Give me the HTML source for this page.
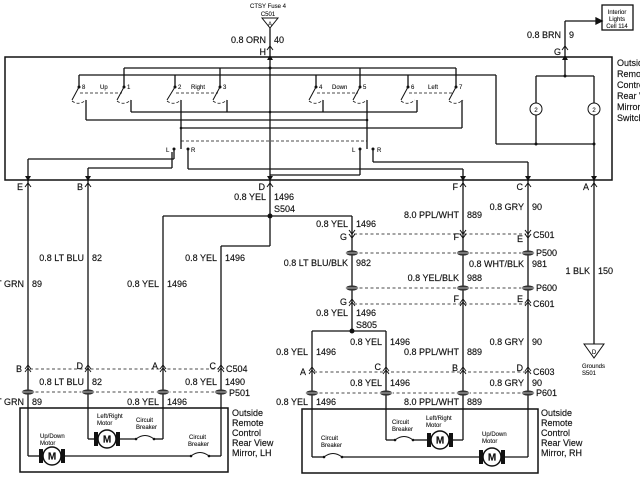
<!DOCTYPE html>
<html><head><meta charset="utf-8"><style>
html,body{margin:0;padding:0;background:#fff}
svg{display:block}
text{font-family:"Liberation Sans",Arial,sans-serif;font-size:9px;fill:#111;stroke:#111;stroke-width:0.15}
.s{font-size:6px;stroke-width:0.1}
</style></head><body>
<svg width="640" height="480" viewBox="0 0 640 480" xmlns="http://www.w3.org/2000/svg">
<defs>
<g id="cu"><path d="M-3,3 L0,-1 L3,3 M-3,6 L0,2 L3,6" fill="none" stroke="#111" stroke-width="0.9"/></g>
<g id="cd"><path d="M-3,-3 L0,1 L3,-3" fill="none" stroke="#111" stroke-width="1"/></g>
<g id="pp"><ellipse cx="0" cy="0" rx="6" ry="2.6" fill="#333"/><line x1="-7" y1="0" x2="7" y2="0" stroke="#ddd" stroke-width="0.8"/></g>
<g id="mot"><rect x="-13" y="-7" width="4" height="14" fill="#111"/><rect x="9" y="-7" width="4" height="14" fill="#111"/><circle cx="0" cy="0" r="9" fill="#fff" stroke="#111" stroke-width="1.5"/><text x="0" y="3.5" text-anchor="middle" style="font-size:10px;font-weight:bold">M</text></g>
<g id="cb"><path d="M-9,0 Q0,-7 9,0" fill="none" stroke="#111" stroke-width="1"/><circle cx="-9" cy="0" r="1.3" fill="#111"/><circle cx="9" cy="0" r="1.3" fill="#111"/></g>
</defs>
<g stroke="#111" stroke-width="1.3" fill="none">
<path d="M262,18 L278,18 L270,28 Z" stroke-width="1"/>
<line x1="270" y1="28" x2="270" y2="57"/>
<rect x="602" y="5" width="31" height="25"/>
<line x1="602" y1="21" x2="565" y2="21"/><line x1="565" y1="21" x2="565" y2="57"/>
<path d="M596,18 L602,21 L596,24Z" fill="#111"/>
<rect x="5" y="57" width="607" height="123" stroke-width="1.5"/>
<line x1="270" y1="57" x2="270" y2="180"/>
<line x1="124" y1="68" x2="456" y2="68"/>
<line x1="124" y1="68" x2="124" y2="87"/>
<line x1="220" y1="68" x2="220" y2="87"/>
<line x1="360" y1="68" x2="360" y2="87"/>
<line x1="456" y1="68" x2="456" y2="87"/>
<line x1="79" y1="75" x2="496" y2="75"/>
<line x1="79" y1="75" x2="79" y2="87"/>
<line x1="175" y1="75" x2="175" y2="87"/>
<line x1="316" y1="75" x2="316" y2="87"/>
<line x1="408" y1="75" x2="408" y2="87"/>
<line x1="496" y1="75" x2="496" y2="144"/>
<line x1="496" y1="144" x2="594" y2="144"/>
<line x1="565" y1="57" x2="565" y2="76"/>
<line x1="536" y1="76" x2="594" y2="76"/>
<line x1="536" y1="76" x2="536" y2="144"/>
<line x1="594" y1="76" x2="594" y2="180"/>
<g stroke-width="1">
<line x1="79" y1="87" x2="72" y2="100"/><line x1="124" y1="87" x2="117" y2="100"/>
<line x1="175" y1="87" x2="167" y2="100"/><line x1="220" y1="87" x2="213" y2="100"/>
<line x1="316" y1="87" x2="309" y2="100"/><line x1="360" y1="87" x2="353" y2="100"/>
<line x1="408" y1="87" x2="401" y2="100"/><line x1="456" y1="87" x2="449" y2="100"/>
</g>
<g stroke-dasharray="3,2" stroke-width="0.8">
<line x1="80" y1="93" x2="122" y2="93"/><line x1="176" y1="93" x2="218" y2="93"/>
<line x1="317" y1="93" x2="358" y2="93"/><line x1="409" y1="93" x2="454" y2="93"/>
<line x1="181" y1="141" x2="367" y2="141"/>
<path d="M72,101 Q79,106 86,100 M117,101 Q124,106 131,100 M167,101 Q174,106 181,100 M213,101 Q220,106 227,100 M309,101 Q316,106 323,100 M353,101 Q360,106 367,100 M401,101 Q408,106 415,100 M449,101 Q456,106 463,100"/>
</g>
<line x1="86" y1="100" x2="86" y2="120"/>
<line x1="131" y1="100" x2="131" y2="112"/>
<line x1="181" y1="100" x2="181" y2="149"/>
<line x1="227" y1="100" x2="227" y2="112"/>
<line x1="323" y1="100" x2="323" y2="112"/>
<line x1="367" y1="100" x2="367" y2="149"/>
<line x1="417" y1="100" x2="417" y2="112"/>
<line x1="462" y1="100" x2="462" y2="128"/>
<line x1="131" y1="112" x2="417" y2="112"/>
<line x1="86" y1="120" x2="367" y2="120"/>
<line x1="181" y1="128" x2="462" y2="128"/>
<line x1="174" y1="149" x2="174" y2="159"/><line x1="28" y1="159" x2="174" y2="159"/>
<line x1="28" y1="159" x2="28" y2="180"/>
<line x1="172" y1="152" x2="172" y2="168"/><line x1="88" y1="168" x2="172" y2="168"/>
<line x1="88" y1="168" x2="88" y2="180"/>
<line x1="188" y1="149" x2="188" y2="169"/><line x1="188" y1="169" x2="463" y2="169"/>
<line x1="463" y1="169" x2="463" y2="180"/>
<line x1="373" y1="149" x2="373" y2="162"/><line x1="373" y1="162" x2="528" y2="162"/>
<line x1="528" y1="162" x2="528" y2="180"/>
<line x1="360" y1="149" x2="360" y2="175"/><line x1="270" y1="175" x2="360" y2="175"/>
<line x1="28" y1="180" x2="28" y2="408"/>
<line x1="88" y1="180" x2="88" y2="439"/>
<line x1="270" y1="180" x2="270" y2="246"/>
<line x1="163" y1="216" x2="352" y2="216"/>
<line x1="163" y1="216" x2="163" y2="439"/>
<line x1="221" y1="246" x2="270" y2="246"/>
<line x1="221" y1="246" x2="221" y2="456"/>
<line x1="352" y1="216" x2="352" y2="331"/>
<line x1="312" y1="331" x2="386" y2="331"/>
<line x1="312" y1="331" x2="312" y2="457"/>
<line x1="386" y1="331" x2="386" y2="440"/>
<line x1="463" y1="180" x2="463" y2="440"/>
<line x1="528" y1="180" x2="528" y2="457"/>
<line x1="594" y1="180" x2="594" y2="344"/>
<path d="M584,344 L604,344 L594,358 Z" stroke-width="1"/>
<g stroke-dasharray="3,2.5" stroke-width="0.8">
<line x1="30" y1="369" x2="219" y2="369"/>
<line x1="30" y1="392" x2="219" y2="392"/>
<line x1="354" y1="234" x2="526" y2="234"/>
<line x1="354" y1="253" x2="526" y2="253"/>
<line x1="354" y1="288" x2="526" y2="288"/>
<line x1="354" y1="304" x2="526" y2="304"/>
<line x1="314" y1="372" x2="526" y2="372"/>
<line x1="314" y1="393" x2="526" y2="393"/>
</g>
<rect x="20" y="408" width="208" height="64" stroke-width="1.5"/>
<line x1="88" y1="439" x2="97" y2="439"/><line x1="117" y1="439" x2="136" y2="439"/><line x1="154" y1="439" x2="163" y2="439"/>
<line x1="28" y1="456" x2="40" y2="456"/><line x1="64" y1="456" x2="191" y2="456"/><line x1="209" y1="456" x2="221" y2="456"/>
<line x1="28" y1="408" x2="28" y2="456"/>
<rect x="302" y="409" width="236" height="64" stroke-width="1.5"/>
<line x1="312" y1="457" x2="324" y2="457"/><line x1="342" y1="457" x2="480" y2="457"/><line x1="504" y1="457" x2="528" y2="457"/>
<line x1="386" y1="440" x2="395" y2="440"/><line x1="413" y1="440" x2="428" y2="440"/><line x1="452" y1="440" x2="463" y2="440"/>
</g>
<g fill="#111">
<circle cx="270" cy="216" r="2.5"/><circle cx="352" cy="331" r="2.5"/>
<circle cx="270" cy="68" r="1.5"/><circle cx="565" cy="76" r="1.5"/><circle cx="536" cy="144" r="1.5"/><circle cx="594" cy="144" r="1.5"/>
<circle cx="79" cy="87" r="1.5"/><circle cx="124" cy="87" r="1.5"/><circle cx="175" cy="87" r="1.5"/><circle cx="220" cy="87" r="1.5"/>
<circle cx="316" cy="87" r="1.5"/><circle cx="360" cy="87" r="1.5"/><circle cx="408" cy="87" r="1.5"/><circle cx="456" cy="87" r="1.5"/>
<circle cx="174" cy="149" r="1.5"/><circle cx="188" cy="149" r="1.5"/><circle cx="360" cy="149" r="1.5"/><circle cx="373" cy="149" r="1.5"/>
<circle cx="181" cy="128" r="1.3"/><circle cx="367" cy="120" r="1.3"/><circle cx="270" cy="112" r="1.3"/>
</g>
<g stroke="#111" fill="#fff" stroke-width="1">
<circle cx="536" cy="109" r="6"/><circle cx="594" cy="109" r="6"/>
</g>
<text x="536" y="112" text-anchor="middle" class="s">2</text><text x="594" y="112" text-anchor="middle" class="s">2</text>
<g fill="#111">
<path d="M267,60 L270,55 L273,60Z"/><path d="M562,60 L565,55 L568,60Z"/>
<path d="M25,176 L28,181 L31,176Z"/><path d="M85,176 L88,181 L91,176Z"/><path d="M267,176 L270,181 L273,176Z"/>
<path d="M460,176 L463,181 L466,176Z"/><path d="M525,176 L528,181 L531,176Z"/><path d="M591,176 L594,181 L597,176Z"/>
</g>
<g stroke="#111" fill="none" stroke-width="1">
<path d="M25,187 L28,183 L31,187 M85,187 L88,183 L91,187 M267,187 L270,183 L273,187 M460,187 L463,183 L466,187 M525,187 L528,183 L531,187 M591,187 L594,183 L597,187"/>
<path d="M267,50 L270,46 L273,50 M562,50 L565,46 L568,50"/>
</g>
<use href="#cu" x="28" y="366"/><use href="#cu" x="88" y="366"/><use href="#cu" x="163" y="366"/><use href="#cu" x="221" y="366"/>
<use href="#pp" x="28" y="392"/><use href="#pp" x="88" y="392"/><use href="#pp" x="163" y="392"/><use href="#pp" x="221" y="392"/>
<use href="#cd" x="352" y="233"/><use href="#cd" x="352" y="237"/><use href="#cd" x="463" y="233"/><use href="#cd" x="463" y="237"/><use href="#cd" x="528" y="233"/><use href="#cd" x="528" y="237"/>
<use href="#pp" x="352" y="253"/><use href="#pp" x="463" y="253"/><use href="#pp" x="528" y="253"/>
<use href="#pp" x="352" y="288"/><use href="#pp" x="463" y="288"/><use href="#pp" x="528" y="288"/>
<use href="#cu" x="352" y="300"/><use href="#cu" x="463" y="300"/><use href="#cu" x="528" y="300"/>
<use href="#cu" x="312" y="368"/><use href="#cu" x="386" y="368"/><use href="#cu" x="463" y="368"/><use href="#cu" x="528" y="368"/>
<use href="#pp" x="312" y="393"/><use href="#pp" x="386" y="393"/><use href="#pp" x="463" y="393"/><use href="#pp" x="528" y="393"/>
<use href="#mot" x="107" y="439"/><use href="#mot" x="52" y="456"/>
<use href="#cb" x="145" y="439"/><use href="#cb" x="200" y="456"/>
<use href="#mot" x="440" y="440"/><use href="#mot" x="492" y="457"/>
<use href="#cb" x="333" y="457"/><use href="#cb" x="404" y="440"/>
<text x="268" y="8" text-anchor="middle" class="s">CTSY Fuse 4</text>
<text x="268" y="16" text-anchor="middle" class="s">C501</text>
<text x="270" y="26" text-anchor="middle" class="s">A</text>
<text x="266" y="43" text-anchor="end">0.8 ORN</text><text x="274" y="43">40</text>
<text x="266" y="55" text-anchor="end">H</text>
<text x="617" y="14" text-anchor="middle" class="s">Interior</text>
<text x="617" y="21" text-anchor="middle" class="s">Lights</text>
<text x="617" y="28" text-anchor="middle" class="s">Cell 114</text>
<text x="561" y="38" text-anchor="end">0.8 BRN</text><text x="569" y="38">9</text>
<text x="561" y="55" text-anchor="end">G</text>
<text x="617" y="66">Outside</text><text x="617" y="77">Remote</text><text x="617" y="88">Control</text><text x="617" y="99">Rear View</text><text x="617" y="110">Mirror</text><text x="617" y="121">Switch</text>
<text x="82" y="89" class="s">8</text><text x="100" y="89" class="s">Up</text><text x="127" y="89" class="s">1</text>
<text x="178" y="89" class="s">2</text><text x="191" y="89" class="s">Right</text><text x="223" y="89" class="s">3</text>
<text x="319" y="89" class="s">4</text><text x="332" y="89" class="s">Down</text><text x="363" y="89" class="s">5</text>
<text x="411" y="89" class="s">6</text><text x="428" y="89" class="s">Left</text><text x="459" y="89" class="s">7</text>
<text x="166" y="152" class="s">L</text><text x="191" y="152" class="s">R</text><text x="352" y="152" class="s">L</text><text x="377" y="152" class="s">R</text>
<text x="23" y="190" text-anchor="end">E</text><text x="83" y="190" text-anchor="end">B</text><text x="265" y="190" text-anchor="end">D</text>
<text x="458" y="190" text-anchor="end">F</text><text x="523" y="190" text-anchor="end">C</text><text x="589" y="190" text-anchor="end">A</text>
<text x="266" y="200" text-anchor="end">0.8 YEL</text><text x="274" y="200">1496</text><text x="274" y="212">S504</text>
<text x="459" y="218" text-anchor="end">8.0 PPL/WHT</text><text x="467" y="218">889</text>
<text x="524" y="210" text-anchor="end">0.8 GRY</text><text x="532" y="210">90</text>
<text x="348" y="227" text-anchor="end">0.8 YEL</text><text x="356" y="227">1496</text>
<text x="347" y="240" text-anchor="end">G</text><text x="459" y="240" text-anchor="end">F</text><text x="523" y="242" text-anchor="end">E</text>
<text x="533" y="238">C501</text><text x="536" y="256">P500</text>
<text x="84" y="261" text-anchor="end">0.8 LT BLU</text><text x="92" y="261">82</text>
<text x="217" y="261" text-anchor="end">0.8 YEL</text><text x="225" y="261">1496</text>
<text x="348" y="266" text-anchor="end">0.8 LT BLU/BLK</text><text x="356" y="266">982</text>
<text x="524" y="267" text-anchor="end">0.8 WHT/BLK</text><text x="532" y="267">981</text>
<text x="590" y="274" text-anchor="end">1 BLK</text><text x="598" y="274">150</text>
<text x="459" y="281" text-anchor="end">0.8 YEL/BLK</text><text x="467" y="281">988</text>
<text x="536" y="291">P600</text>
<text x="24" y="287" text-anchor="end">0.8 LT GRN</text><text x="32" y="287">89</text>
<text x="159" y="287" text-anchor="end">0.8 YEL</text><text x="167" y="287">1496</text>
<text x="347" y="305" text-anchor="end">G</text><text x="459" y="302" text-anchor="end">F</text><text x="523" y="302" text-anchor="end">E</text>
<text x="533" y="307">C601</text>
<text x="348" y="316" text-anchor="end">0.8 YEL</text><text x="356" y="316">1496</text><text x="356" y="328">S805</text>
<text x="382" y="345" text-anchor="end">0.8 YEL</text><text x="390" y="345">1496</text>
<text x="524" y="345" text-anchor="end">0.8 GRY</text><text x="532" y="345">90</text>
<text x="459" y="355" text-anchor="end">0.8 PPL/WHT</text><text x="467" y="355">889</text>
<text x="308" y="355" text-anchor="end">0.8 YEL</text><text x="316" y="355">1496</text>
<text x="594" y="354" text-anchor="middle" class="s">D</text>
<text x="582" y="368" class="s">Grounds</text><text x="582" y="375" class="s">S501</text>
<text x="22" y="372" text-anchor="end">B</text><text x="83" y="369" text-anchor="end">D</text><text x="158" y="369" text-anchor="end">A</text><text x="216" y="369" text-anchor="end">C</text>
<text x="226" y="372">C504</text>
<text x="306" y="375" text-anchor="end">A</text><text x="381" y="370" text-anchor="end">C</text><text x="458" y="371" text-anchor="end">B</text><text x="523" y="371" text-anchor="end">D</text>
<text x="533" y="375">C603</text>
<text x="84" y="385" text-anchor="end">0.8 LT BLU</text><text x="92" y="385">82</text>
<text x="217" y="385" text-anchor="end">0.8 YEL</text><text x="225" y="385">1490</text>
<text x="382" y="386" text-anchor="end">0.8 YEL</text><text x="390" y="386">1496</text>
<text x="524" y="386" text-anchor="end">0.8 GRY</text><text x="532" y="386">90</text>
<text x="229" y="396">P501</text><text x="536" y="396">P601</text>
<text x="24" y="405" text-anchor="end">0.8 LT GRN</text><text x="32" y="405">89</text>
<text x="159" y="405" text-anchor="end">0.8 YEL</text><text x="167" y="405">1496</text>
<text x="308" y="405" text-anchor="end">0.8 YEL</text><text x="316" y="405">1496</text>
<text x="459" y="405" text-anchor="end">8.0 PPL/WHT</text><text x="467" y="405">889</text>
<text x="232" y="416">Outside</text><text x="232" y="426">Remote</text><text x="232" y="436">Control</text><text x="232" y="446">Rear View</text><text x="232" y="456">Mirror, LH</text>
<text x="541" y="416">Outside</text><text x="541" y="426">Remote</text><text x="541" y="436">Control</text><text x="541" y="446">Rear View</text><text x="541" y="456">Mirror, RH</text>
<text x="97" y="418" class="s">Left/Right</text><text x="97" y="425" class="s">Motor</text>
<text x="136" y="422" class="s">Circuit</text><text x="136" y="429" class="s">Breaker</text>
<text x="40" y="438" class="s">Up/Down</text><text x="40" y="445" class="s">Motor</text>
<text x="189" y="439" class="s">Circuit</text><text x="188" y="446" class="s">Breaker</text>
<text x="392" y="424" class="s">Circuit</text><text x="392" y="431" class="s">Breaker</text>
<text x="426" y="420" class="s">Left/Right</text><text x="426" y="427" class="s">Motor</text>
<text x="321" y="440" class="s">Circuit</text><text x="321" y="447" class="s">Breaker</text>
<text x="482" y="436" class="s">Up/Down</text><text x="482" y="443" class="s">Motor</text>
</svg>
</body></html>
